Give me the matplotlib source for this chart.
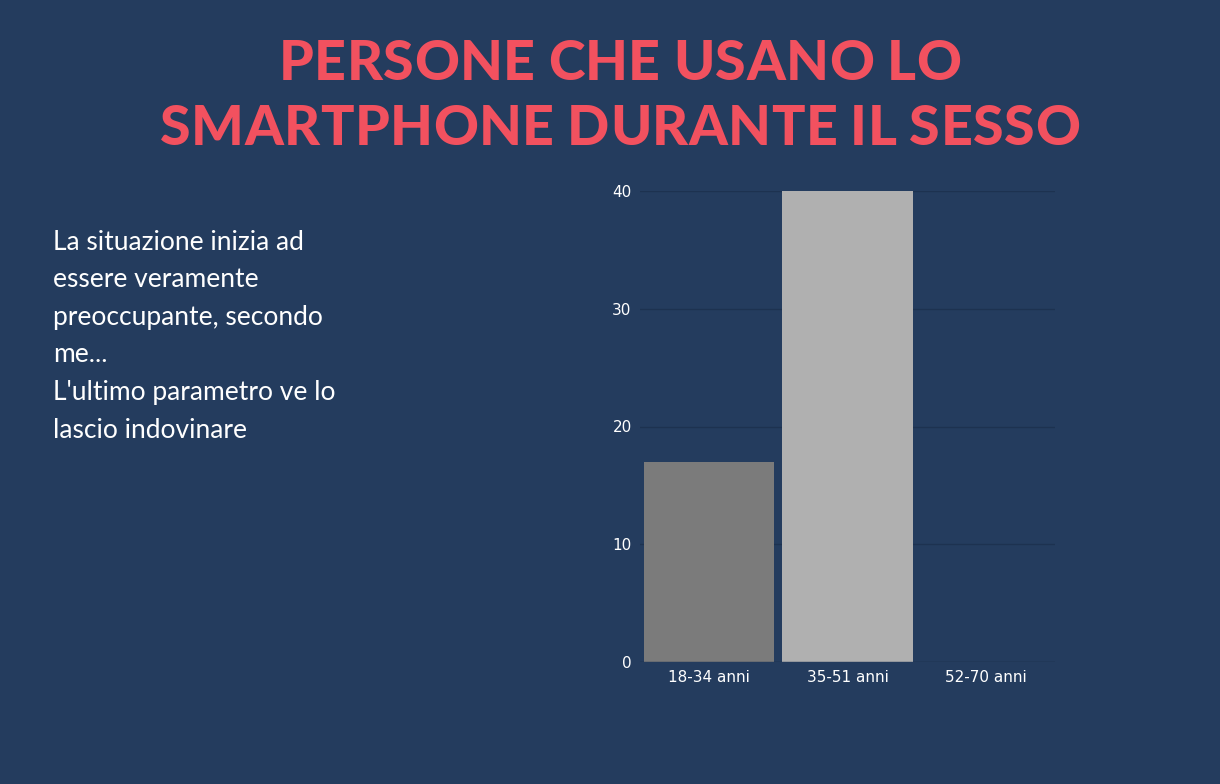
import matplotlib
matplotlib.use("Agg")
import matplotlib.pyplot as plt

categories = ["18-34 anni", "35-51 anni", "52-70 anni"]
values = [17, 40, 0]
bar_colors = ["#7b7b7b", "#b0b0b0", "#d0d0d0"]
yticks = [0, 10, 20, 30, 40]
title_lines = ["PERSONE CHE USANO LO", "SMARTPHONE DURANTE IL SESSO"]
body_lines = ["La situazione inizia ad", "essere veramente", "preoccupante, secondo",
              "me...", "L'ultimo parametro ve lo", "lascio indovinare"]

BG = "#243c5e"
RED = "#f2515f"
W, H = 1220, 784

fig = plt.figure(figsize=(W / 100, H / 100), dpi=100)
fig.patch.set_facecolor(BG)
renderer = fig.canvas.get_renderer()


def spaced_line(text, y_px, target_w=None, spacing=None, size=40):
    # draw letter by letter to imitate letter-spacing
    objs, widths = [], []
    for ch in text:
        t = fig.text(0, 0, ch, fontsize=size, fontfamily="Lato", fontweight="heavy",
                     color=RED, va="center", ha="left")
        w = t.get_window_extent(renderer).width if ch != " " else size * 0.3
        objs.append(t)
        widths.append(w)
    if spacing is None:
        spacing = (target_w - sum(widths)) / (len(text) - 1)
    total = sum(widths) + spacing * (len(text) - 1)
    x = (W - total) / 2 + 10
    for t, w in zip(objs, widths):
        t.set_position((x / W, 1 - y_px / H))
        x += w + spacing
    return spacing


sp = spaced_line(title_lines[1], 129, target_w=920)
spaced_line(title_lines[0], 64, spacing=sp)

for i, line in enumerate(body_lines):
    fig.text(53 / W, 1 - (242 + i * 37.6) / H, line, fontsize=19, fontfamily="Lato",
             color="white", va="center", ha="left")

ax = fig.add_axes([640 / W, 1 - 662 / H, 415 / W, 471 / H])
ax.set_facecolor(BG)
x = range(len(categories))
ax.bar(x, values, width=0.94, color=bar_colors, zorder=3)
ax.set_xlim(-0.5, 2.5)
ax.set_ylim(0, 40)
ax.set_yticks(yticks)
ax.set_xticks(list(x))
ax.set_xticklabels(categories)
ax.yaxis.grid(True, color="#1d3250", linewidth=1, zorder=0)
for s in ax.spines.values():
    s.set_visible(False)
ax.tick_params(length=0, colors="white", labelsize=11, pad=6)
for lab in ax.get_xticklabels() + ax.get_yticklabels():
    lab.set_fontfamily("Liberation Sans Narrow")
ax.axhline(0, color="#1d3250", linewidth=1, zorder=4)

fig.savefig("out.png", dpi=100, facecolor=BG)
